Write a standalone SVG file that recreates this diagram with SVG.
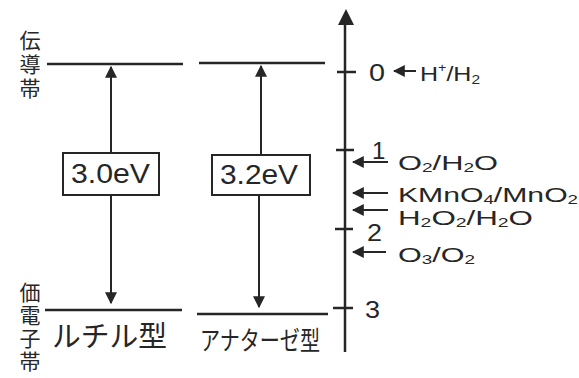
<svg xmlns="http://www.w3.org/2000/svg" width="579" height="378" viewBox="0 0 579 378">
<defs>
<style>
.ln{stroke:#262626;stroke-width:2.5;fill:none}
.ar{stroke:#262626;stroke-width:2;fill:none}
.box{stroke:#262626;stroke-width:2;fill:#fff}
.jp{font-family:"Noto Sans CJK JP","Noto Sans",sans-serif;fill:#262626}
.vt{writing-mode:vertical-rl;font-size:21px}
.lt{font-family:"Liberation Sans","DejaVu Sans",sans-serif;fill:#262626}
</style>
<marker id="ah" viewBox="0 0 10 10" refX="9" refY="5" markerWidth="6" markerHeight="6" markerUnits="strokeWidth" orient="auto">
<path d="M0,0 L10,5 L0,10 z" fill="#262626"/>
</marker>
</defs>
<rect width="579" height="378" fill="#fff"/>

<g id="band-labels">
<text class="jp vt" x="30" y="30" letter-spacing="3">伝導帯</text>
<text class="jp vt" x="30" y="282" letter-spacing="2">価電子帯</text>
</g>

<g id="rutile">
<line class="ln" x1="47" y1="64" x2="183" y2="64"/>
<line class="ln" x1="45" y1="310" x2="182" y2="310"/>
<rect class="box" x="63" y="153" width="96" height="42"/>
<text class="lt" font-size="27" x="71" y="183" textLength="79" lengthAdjust="spacingAndGlyphs">3.0eV</text>
<text class="jp" font-size="29" x="52" y="347" textLength="115" lengthAdjust="spacingAndGlyphs">ルチル型</text>
</g>

<g id="anatase">
<line class="ln" x1="199" y1="63" x2="325" y2="63"/>
<line class="ln" x1="197" y1="314" x2="328" y2="314"/>
<rect class="box" x="212" y="155" width="98" height="40"/>
<text class="lt" font-size="27" x="220" y="184" textLength="78" lengthAdjust="spacingAndGlyphs">3.2eV</text>
<text class="jp" font-size="26" x="200" y="350" textLength="120" lengthAdjust="spacingAndGlyphs">アナターゼ型</text>
</g>

<g id="axis">
<line class="ln" x1="345" y1="352" x2="345" y2="24"/>
<path d="M346,9 L354,25 L338,25 z" fill="#262626"/>
<line class="ln" x1="337" y1="72" x2="356" y2="72"/>
<line class="ln" x1="336" y1="150" x2="354" y2="150"/>
<line class="ln" x1="335" y1="229" x2="353" y2="229"/>
<line class="ln" x1="333" y1="308" x2="353" y2="308"/>
<text class="lt" font-size="23" x="369" y="81" textLength="16" lengthAdjust="spacingAndGlyphs">0</text>
<text class="lt" font-size="24" x="372" y="159">1</text>
<text class="lt" font-size="24" x="367" y="241" textLength="15" lengthAdjust="spacingAndGlyphs">2</text>
<text class="lt" font-size="24" x="365" y="318" textLength="15" lengthAdjust="spacingAndGlyphs">3</text>
</g>

<g id="potentials">
<text class="lt" font-size="21" x="420" y="81" textLength="60" lengthAdjust="spacingAndGlyphs">H<tspan font-size="12" dy="-9">+</tspan><tspan dy="9">/H</tspan><tspan font-size="13" dy="3">2</tspan></text>
<text class="lt" font-size="21" x="398" y="170" textLength="100" lengthAdjust="spacingAndGlyphs">O<tspan font-size="13" dy="2">2</tspan><tspan dy="-2">/H</tspan><tspan font-size="13" dy="2">2</tspan><tspan dy="-2">O</tspan></text>
<text class="lt" font-size="21" x="398" y="202" textLength="180" lengthAdjust="spacingAndGlyphs">KMnO<tspan font-size="13" dy="2">4</tspan><tspan dy="-2">/MnO</tspan><tspan font-size="13" dy="2">2</tspan></text>
<text class="lt" font-size="21" x="398" y="225" textLength="135" lengthAdjust="spacingAndGlyphs">H<tspan font-size="13" dy="2">2</tspan><tspan dy="-2">O</tspan><tspan font-size="13" dy="2">2</tspan><tspan dy="-2">/H</tspan><tspan font-size="13" dy="2">2</tspan><tspan dy="-2">O</tspan></text>
<text class="lt" font-size="21" x="398" y="262" textLength="77" lengthAdjust="spacingAndGlyphs">O<tspan font-size="13" dy="2">3</tspan><tspan dy="-2">/O</tspan><tspan font-size="13" dy="2">2</tspan></text>
</g>

<g id="connectors">
<line class="ar" x1="111" y1="153" x2="111" y2="67" marker-end="url(#ah)"/>
<line class="ar" x1="111" y1="195" x2="111" y2="303" marker-end="url(#ah)"/>
<line class="ar" x1="261" y1="155" x2="261" y2="66" marker-end="url(#ah)"/>
<line class="ar" x1="259" y1="195" x2="259" y2="307" marker-end="url(#ah)"/>
<line class="ar" x1="416" y1="71" x2="394" y2="71" marker-end="url(#ah)"/>
<line class="ar" x1="388" y1="162" x2="353" y2="162" marker-end="url(#ah)"/>
<line class="ar" x1="388" y1="193" x2="353" y2="193" marker-end="url(#ah)"/>
<line class="ar" x1="388" y1="210" x2="353" y2="210" marker-end="url(#ah)"/>
<line class="ar" x1="386" y1="252" x2="353" y2="252" marker-end="url(#ah)"/>
</g>
</svg>
